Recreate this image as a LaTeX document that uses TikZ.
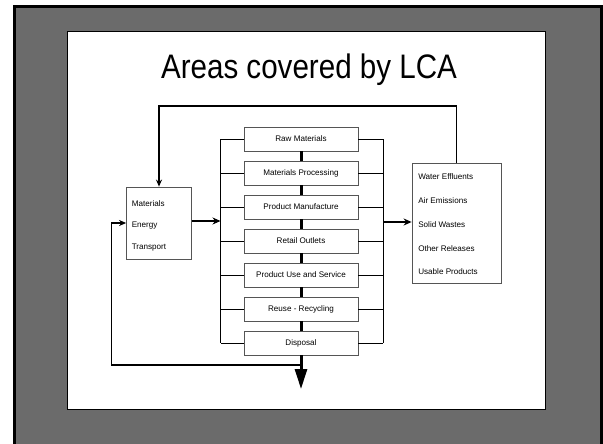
\documentclass[tikz,border=0pt]{standalone}
\usepackage{fontspec}
\setmainfont{Liberation Sans}
\newfontfamily\titlefont[FakeStretch=0.87]{Liberation Sans}
\usepackage{tikz}
\usetikzlibrary{
    arrows.meta,
    calc,
    positioning
}
\definecolor{slidegray}{RGB}{107,107,107}
\definecolor{boxline}{RGB}{85,85,85}
\tikzset{
    stage/.style={draw=boxline, fill=white, line width=0.8pt, minimum width=114pt, minimum height=24pt, inner sep=0pt, font=\fontsize{8.1}{9.7}\selectfont},
    listbox/.style={draw=boxline, fill=white, line width=0.8pt},
    listtext/.style={align=left, anchor=west, inner sep=0pt},
    flow/.style={line width=1.8pt, -{Stealth[length=7pt, width=6pt]}},
    feed/.style={line width=1.3pt, -{Stealth[length=8pt, width=7pt]}},
    tap/.style={line width=0.9pt},
    link/.style={line width=3pt}
}

\begin{document}
\begin{tikzpicture}[x=1pt, y=-1pt]
    \useasboundingbox (0, 0) rectangle (603, 444);
    \fill[white] (0, 0) rectangle (603, 444);
    \draw[line width=3pt, fill=slidegray] (14.5, 6.5) rectangle (601.5, 460);
    \draw[line width=1pt, fill=white] (67, 32) rectangle (545, 409);
    \node[anchor=base, inner sep=0pt, font=\titlefont\fontsize{34}{40}\selectfont] (title) at (309, 79) {Areas covered by LCA};

    \foreach \name/\txt [count=\i from 0] in {raw/Raw Materials, proc/Materials Processing, manu/Product Manufacture, retail/Retail Outlets, use/Product Use and Service, reuse/Reuse - Recycling, disp/Disposal}
        \node[stage] (\name) at (301, 139 + 34*\i) {\txt};

    \node[listbox, minimum width=65pt, minimum height=72pt] (ins) at (159, 223) {};
    \node[listtext, font=\fontsize{8.1}{21.5}\selectfont] (inslist) at ($(ins.west)+(5.5, 2.5)$) {Materials\\Energy\\Transport};
    \node[listbox, minimum width=89pt, minimum height=120pt] (outs) at (456.5, 223) {};
    \node[listtext, font=\fontsize{8.1}{23.75}\selectfont] (outslist) at ($(outs.west)+(6.5, 1.5)$) {Water Effluents\\Air Emissions\\Solid Wastes\\Other Releases\\Usable Products};

    \coordinate (lbus) at (220.5, 139);
    \coordinate (rbus) at (383, 139);
    \coordinate (upper) at (456.5, 106);
    \coordinate (split) at (301, 365);
    \coordinate (sink) at (301, 389);
    \coordinate (lowleft) at (111.5, 365);

    \foreach \name in {raw, proc, manu, retail, use, reuse, disp}
        \draw[tap] (\name.west) -- (\name.west -| lbus) (\name.east) -- (\name.east -| rbus);
    \draw[tap] (raw.west -| lbus) -- (disp.west -| lbus);
    \draw[tap] (raw.east -| rbus) -- (disp.east -| rbus);

    \foreach \a/\b in {raw/proc, proc/manu, manu/retail, retail/use, use/reuse, reuse/disp}
        \draw[link] (\a.south) -- (\b.north);
    \draw[link, -{Triangle[length=20pt, width=12pt]}] (disp.south) -- (sink);

    \draw[feed] ($(ins.east)+(0, -2)$) -- ($(ins.east -| lbus)+(0, -2)$);
    \draw[feed] ($(outs.west -| rbus)+(0, -1)$) -- ($(outs.west)+(0, -1)$);
    \draw[flow] (outs.north) -- (outs.north |- upper) -| (ins.north);
    \draw[flow] (split) -- (lowleft) |- (ins.west);
\end{tikzpicture}
\end{document}
